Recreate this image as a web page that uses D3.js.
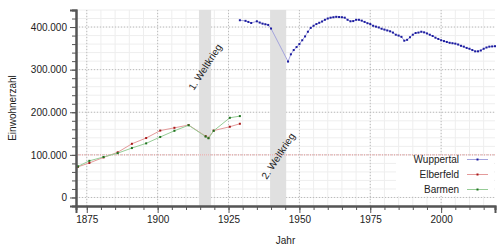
<!DOCTYPE html>
<html>
<head>
<meta charset="utf-8">
<script src="https://cdn.jsdelivr.net/npm/d3@7"></script>
<style>
  body { margin: 0; background: #fff; }
  text { font-family: "Liberation Sans", Arial, sans-serif; fill: #222; }
</style>
</head>
<body>
<svg id="chart" width="500" height="250"></svg>
<script>
// census dates Elberfeld / Barmen
var censusDates = ["1871-12-01", "1875-12-01", "1880-12-01", "1885-12-01", "1890-12-01", "1895-12-14",
  "1900-12-01", "1905-12-01", "1910-12-01", "1916-12-01", "1917-12-05", "1919-10-08", "1925-06-16", "1929-01-01"]
var elberfeld = [72000, 81000, 94000, 106000, 126000, 139500, 157000, 163500, 170000, 144000, 140000, 157000, 166000, 173000]
var barmen    = [73000, 86000, 95000, 104000, 116000, 127000, 142000, 156500, 169500, 143000, 139000, 156500, 187000, 191000]

var wuppYears = [1929, 1931, 1932, 1933, 1935, 1936, 1937, 1938, 1939, 1940,
  1946, 1947, 1948, 1949, 1950, 1951, 1952, 1953, 1954, 1955, 1956, 1957, 1958, 1959,
  1960, 1961, 1962, 1963, 1964, 1965, 1966, 1967, 1968, 1969, 1970, 1971, 1972, 1973, 1974,
  1975, 1976, 1977, 1978, 1979, 1980, 1981, 1982, 1983, 1984, 1985, 1986, 1987, 1988, 1989,
  1990, 1991, 1992, 1993, 1994, 1995, 1996, 1997, 1998, 1999, 2000, 2001, 2002, 2003, 2004,
  2005, 2006, 2007, 2008, 2009, 2010, 2011, 2012, 2013, 2014, 2015, 2016, 2017, 2018, 2019]
var wuppValues = [416000, 414500, 412000, 409500, 413500, 410500, 408000, 406500, 405000, 396500,
  319000, 336000, 346000, 353000, 360000, 369000, 378000, 389000, 398000, 403000, 407000, 410000, 413000, 417000,
  420000, 422000, 423000, 424000, 423500, 423000, 422000, 417000, 413500, 414000, 417000, 417000, 415000, 412000, 409000,
  407000, 403000, 401000, 399000, 396000, 394000, 392000, 390000, 387000, 382000, 380000, 377000, 368000, 370000, 376000,
  382000, 386000, 387000, 389000, 387500, 385000, 382000, 379000, 375000, 372000, 369000, 367000, 365000, 363000, 362000,
  361000, 359000, 356000, 354000, 351000, 349000, 346000, 343000, 343000, 345000, 349000, 352000, 354000, 354500, 355000]

var wars = [
  {name: "1. Weltkrieg", from: "1914-07-28", to: "1918-11-11", labelY: 67},
  {name: "2. Weltkrieg", from: "1939-09-01", to: "1945-05-08", labelY: 156}
]

var majorY = [0, 100000, 200000, 300000, 400000]
var majorX = [1875, 1900, 1925, 1950, 1975, 2000]

function decYear(s) {
  var d = new Date(s + "T00:00:00Z"), y = d.getUTCFullYear()
  return y + (d - Date.UTC(y, 0, 1)) / (Date.UTC(y + 1, 0, 1) - Date.UTC(y, 0, 1))
}

var de = d3.formatLocale({decimal: ",", thousands: ".", grouping: [3], currency: ["", " €"]})
var fmt = de.format(",")

var svg = d3.select("#chart"),
  margin = {top: 10, left: 76, bottom: 44, right: 5},
  width = +svg.attr("width"),
  height = +svg.attr("height")

var x = d3.scaleLinear()
  .domain([1871.2, 2019])
  .range([margin.left, width - margin.right])

var y = d3.scaleLinear()
  .domain([-20000, 440000])
  .range([height - margin.bottom, margin.top])

var minorX = d3.range(1875, 2019, 5)
var minorY = d3.range(-20000, 440001, 20000)

// grid
var grid = svg.append("g")
grid.selectAll(".vmin").data(minorX).enter().append("line")
  .attr("x1", d => x(d)).attr("x2", d => x(d))
  .attr("y1", y.range()[1]).attr("y2", y.range()[0])
  .attr("stroke", "#eee").attr("stroke-width", 1)
grid.selectAll(".hmin").data(minorY).enter().append("line")
  .attr("x1", x.range()[0]).attr("x2", x.range()[1])
  .attr("y1", d => y(d)).attr("y2", d => y(d))
  .attr("stroke", "#eee").attr("stroke-width", 1)
grid.selectAll(".vmaj").data(majorX).enter().append("line")
  .attr("x1", d => x(d)).attr("x2", d => x(d))
  .attr("y1", y.range()[1]).attr("y2", y.range()[0])
  .attr("stroke", "#bbb").attr("stroke-dasharray", "1,2")
grid.selectAll(".hmaj").data(majorY).enter().append("line")
  .attr("x1", x.range()[0]).attr("x2", x.range()[1])
  .attr("y1", d => y(d)).attr("y2", d => y(d))
  .attr("stroke", "#bbb").attr("stroke-dasharray", "1,2")

// wars
svg.selectAll(".war").data(wars).enter().append("rect")
  .attr("x", d => x(decYear(d.from)))
  .attr("width", d => x(decYear(d.to)) - x(decYear(d.from)))
  .attr("y", y.range()[1])
  .attr("height", y.range()[0] - y.range()[1])
  .attr("fill", "#e0e0e0")

svg.selectAll(".warlabel").data(wars).enter().append("text")
  .attr("transform", d => `translate(${(x(decYear(d.from)) + x(decYear(d.to))) / 2},${d.labelY}) rotate(-57)`)
  .attr("text-anchor", "middle")
  .attr("dy", "0.35em")
  .style("font-size", "10px")
  .text(d => d.name)

// Großstadt line
svg.append("line")
  .attr("x1", x.range()[0]).attr("x2", x.range()[1])
  .attr("y1", y(100000)).attr("y2", y(100000))
  .attr("stroke", "#f0a4a4").attr("stroke-dasharray", "1,1")

// series
var series = [
  {name: "Wuppertal", line: "#a4a4dc", dot: "#1c1ca0",
    data: wuppYears.map((d, i) => [d, wuppValues[i]])},
  {name: "Elberfeld", line: "#e49a9a", dot: "#a81818",
    data: censusDates.map((d, i) => [decYear(d), elberfeld[i]])},
  {name: "Barmen", line: "#96cc96", dot: "#1e721e",
    data: censusDates.map((d, i) => [decYear(d), barmen[i]])}
]

var line = d3.line().x(d => x(d[0])).y(d => y(d[1]))

var sg = svg.selectAll(".series").data(series).enter().append("g")
sg.append("path")
  .attr("d", d => line(d.data))
  .attr("fill", "none")
  .attr("stroke", d => d.line)
  .attr("stroke-width", 1)
sg.each(function(s) {
  d3.select(this).selectAll("rect").data(s.data).enter().append("rect")
    .attr("x", d => x(d[0]) - 1).attr("y", d => y(d[1]) - 1)
    .attr("width", 2).attr("height", 2)
    .attr("fill", s.dot)
})

// axes
var axisColor = "#555"
var yAxis = svg.append("g")
  .attr("transform", `translate(${margin.left},0)`)
  .call(d3.axisLeft(y).tickValues(minorY).tickSize(4).tickFormat(""))
yAxis.append("g")
  .call(d3.axisLeft(y).tickValues(majorY).tickSize(6).tickFormat(fmt).tickPadding(3))
yAxis.selectAll("path").attr("stroke", axisColor).attr("stroke-width", 2)
yAxis.selectAll("line").attr("stroke", axisColor)
yAxis.selectAll("text").style("font-size", "10px").attr("fill", "#222").style("font-family", null)

var xAxis = svg.append("g")
  .attr("transform", `translate(0,${height - margin.bottom})`)
  .call(d3.axisBottom(x).tickValues(minorX).tickSize(4).tickFormat(""))
xAxis.append("g")
  .call(d3.axisBottom(x).tickValues(majorX).tickSize(7).tickFormat(d3.format("d")).tickPadding(3))
xAxis.selectAll("path").attr("stroke", axisColor).attr("stroke-width", 2)
xAxis.selectAll("line").attr("stroke", axisColor)
xAxis.selectAll("text").style("font-size", "10px").attr("fill", "#222").style("font-family", null)

svg.append("text")
  .attr("x", (x.range()[0] + x.range()[1]) / 2)
  .attr("y", 244)
  .attr("text-anchor", "middle")
  .style("font-size", "10px")
  .text("Jahr")

svg.append("text")
  .attr("transform", `translate(16,${(y.range()[0] + y.range()[1]) / 2}) rotate(-90)`)
  .attr("text-anchor", "middle")
  .style("font-size", "10px")
  .text("Einwohnerzahl")

// legend
var legend = svg.append("g")
legend.append("rect")
  .attr("x", 396).attr("y", 156).attr("width", 98).attr("height", 40)
  .attr("fill", "#fff")
var li = legend.selectAll(".li").data(series).enter().append("g")
  .attr("transform", (d, i) => `translate(0,${159.5 + i * 15})`)
li.append("text")
  .attr("x", 459).attr("dy", "0.35em")
  .attr("text-anchor", "end")
  .style("font-size", "10px")
  .text(d => d.name)
li.append("line")
  .attr("x1", 467).attr("x2", 488)
  .attr("stroke", d => d.line)
li.append("rect")
  .attr("x", 476.5).attr("y", -1).attr("width", 2).attr("height", 2)
  .attr("fill", d => d.dot)
</script>
</body>
</html>
